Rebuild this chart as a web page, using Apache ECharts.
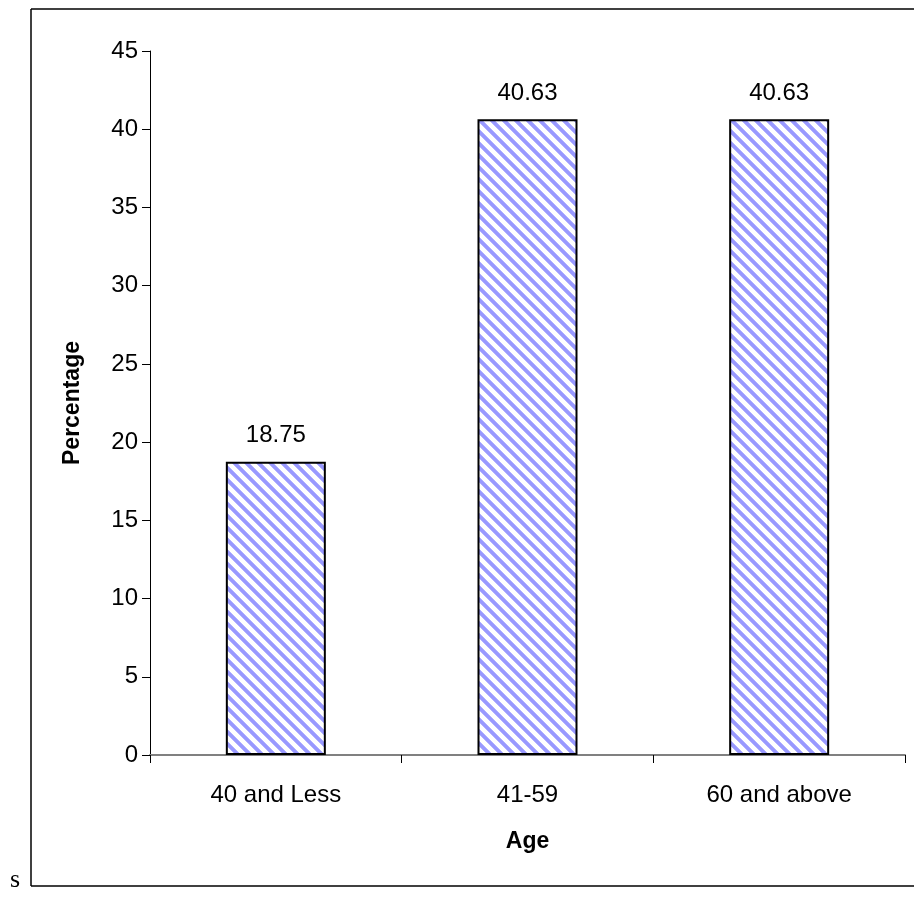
<!DOCTYPE html>
<html><head><meta charset="utf-8">
<script src="https://cdn.jsdelivr.net/npm/echarts@6/dist/echarts.min.js"></script>
<style>html,body{margin:0;padding:0;background:#fff}#c{width:914px;height:897px}</style>
</head><body><div id="c"></div>
<script>
const categories = ['40 and Less', '41-59', '60 and above'];
const percentages = [18.75, 40.63, 40.63];
const yTicks = { min: 0, max: 45, interval: 5 };

function makePattern() {
  const s = 12;
  const cv = document.createElement('canvas');
  cv.width = s; cv.height = s;
  const ctx = cv.getContext('2d');
  const img = ctx.createImageData(s, s);
  const stripe = 5.5;
  for (let y = 0; y < s; y++) {
    for (let x = 0; x < s; x++) {
      let d = ((x - y) % s + s) % s + 0.5;
      let c = d - stripe / 2; // distance along x from stripe center at 0? use symmetric
      let dist = Math.min(d, s - d);
      let a = Math.max(0, Math.min(1, (stripe / 2 + 0.5 - dist)));
      const i = (y * s + x) * 4;
      img.data[i] = Math.round(255 - a * (255 - 0x99));
      img.data[i + 1] = Math.round(255 - a * (255 - 0x99));
      img.data[i + 2] = 255;
      img.data[i + 3] = 255;
    }
  }
  ctx.putImageData(img, 0, 0);
  return cv;
}

const chart = echarts.init(document.getElementById('c'), null, { renderer: 'canvas' });
const font = 'Liberation Sans, Arial, sans-serif';
chart.setOption({
  animation: false,
  grid: { left: 150, top: 51, right: 9, bottom: 142 },
  xAxis: {
    type: 'category',
    data: categories,
    name: 'Age',
    nameLocation: 'middle',
    nameGap: 75,
    nameTextStyle: { fontFamily: font, fontSize: 23, fontWeight: 'bold', color: '#000' },
    axisLine: { lineStyle: { color: '#808080', width: 2 } },
    axisTick: { show: true, length: 8, lineStyle: { color: '#000', width: 1 } },
    axisLabel: { fontFamily: font, fontSize: 24, color: '#000', margin: 28 },
    splitLine: { show: false }
  },
  yAxis: {
    type: 'value',
    min: yTicks.min, max: yTicks.max, interval: yTicks.interval,
    name: 'Percentage',
    nameLocation: 'middle',
    nameGap: 66,
    nameTextStyle: { fontFamily: font, fontSize: 23, fontWeight: 'bold', color: '#000' },
    axisLine: { show: true, lineStyle: { color: '#000', width: 1 } },
    axisTick: { show: true, length: 8, lineStyle: { color: '#000', width: 1 } },
    axisLabel: { fontFamily: font, fontSize: 24, color: '#000', margin: 12 },
    splitLine: { show: false }
  },
  series: [{
    type: 'bar',
    data: percentages,
    barWidth: 100,
    itemStyle: {
      color: { image: makePattern(), repeat: 'repeat' },
      borderColor: '#000',
      borderWidth: 2
    },
    label: {
      show: true, position: 'top', distance: 14,
      fontFamily: font, fontSize: 24, color: '#000',
      formatter: p => p.value.toFixed(2)
    }
  }],
  graphic: [
    { type: 'line', shape: { x1: 31, y1: 9, x2: 914, y2: 9 }, style: { stroke: '#000', lineWidth: 1.5 } },
    { type: 'line', shape: { x1: 31, y1: 9, x2: 31, y2: 886 }, style: { stroke: '#000', lineWidth: 1.5 } },
    { type: 'line', shape: { x1: 31, y1: 886, x2: 914, y2: 886 }, style: { stroke: '#000', lineWidth: 1.5 } },
    { type: 'text', left: 10, top: 867, style: { text: 's', font: '26px "Liberation Serif", "Times New Roman", serif', fill: '#000' } }
  ]
});
</script></body></html>
